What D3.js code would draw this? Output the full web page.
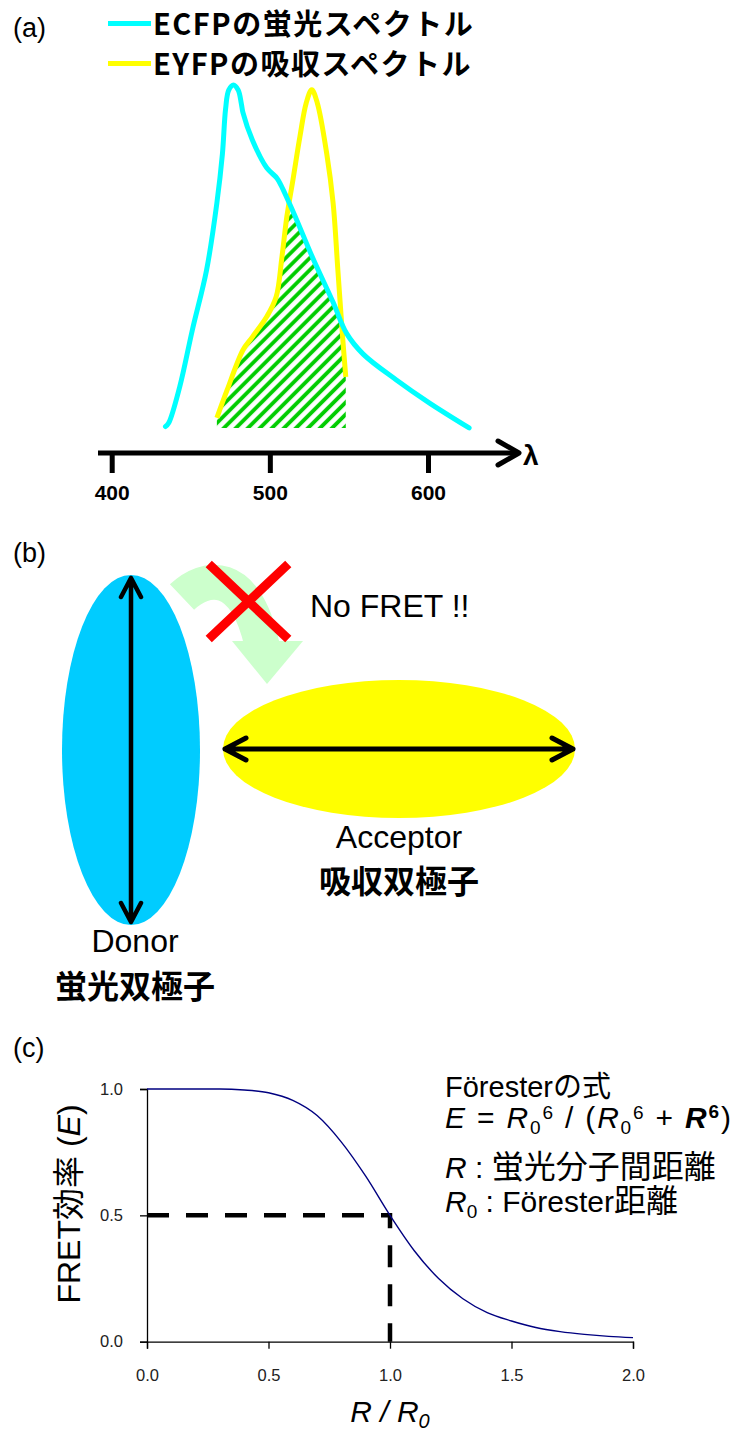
<!DOCTYPE html>
<html>
<head>
<meta charset="utf-8">
<script src="https://cdn.jsdelivr.net/npm/d3@7"></script>
<style>
    body { margin: 0; background: #ffffff; }
    #chart { width: 738px; height: 1437px; }
</style>
</head>
<body>
<div id="chart"></div>
<script>

// DATA

// (a) spectra: wavelength (nm) and relative intensity
const ecfpWavelength = [434, 436, 443, 451, 460, 466.5, 470, 472, 474, 477, 480, 482, 483, 489, 498, 504.5, 507, 515, 527, 540, 548.5, 559, 580, 601, 626];
const ecfpIntensity  = [0.01, 0.02, 0.125, 0.29, 0.464, 0.658, 0.80, 0.93, 0.985, 1.0, 0.985, 0.945, 0.92, 0.84, 0.76, 0.73, 0.71, 0.63, 0.50, 0.37, 0.28, 0.22, 0.145, 0.078, 0.006];

const eyfpWavelength = [466.5, 473, 483, 489, 498, 504, 507.6, 510.7, 514.6, 519, 523, 526.5, 530, 536, 540, 543, 546, 548];
const eyfpIntensity  = [0.035, 0.116, 0.232, 0.27, 0.328, 0.386, 0.50, 0.617, 0.725, 0.85, 0.948, 0.986, 0.948, 0.80, 0.658, 0.464, 0.27, 0.154];

const wavelengthTicks = [400, 500, 600];
const legendLabels = ["ECFPの蛍光スペクトル", "EYFPの吸収スペクトル"];
const legendColors = ["#00ffff", "#ffff00"];

// (c) FRET efficiency vs R / R0
const distanceRatio = [0, 0.1, 0.2, 0.3, 0.4, 0.5, 0.6, 0.7, 0.8, 0.9, 1.0, 1.1, 1.2, 1.3, 1.4, 1.5, 1.6, 1.7, 1.8, 1.9, 2.0];
const efficiency    = [1.0, 1.0, 1.0, 1.0, 0.996, 0.985, 0.955, 0.895, 0.79, 0.655, 0.5, 0.36, 0.25, 0.17, 0.115, 0.082, 0.056, 0.04, 0.029, 0.021, 0.016];
const ratioTicks = [0, 0.5, 1.0, 1.5, 2.0];
const efficiencyTicks = [0, 0.5, 1.0];
const halfPoint = [1.0, 0.5];

const fontLatin = "'Liberation Sans', Arial, 'Noto Sans CJK JP', sans-serif";
const fontJP = "'Noto Sans CJK JP', 'Liberation Sans', sans-serif";

// SVG CANVAS

const width = 738;
const height = 1437;

const svg = d3.select("#chart")
    .append("svg")
    .attr("width", width)
    .attr("height", height)
    .style("font-family", fontLatin);

const defs = svg.append("defs");

// PANEL LABELS

svg.selectAll(".panelLabel")
    .data([["(a)", 37], ["(b)", 562], ["(c)", 1057]])
    .enter()
    .append("text")
    .attr("class", "panelLabel")
    .attr("x", 13)
    .attr("y", function(d) { return d[1]; })
    .attr("font-size", 27)
    .text(function(d) { return d[0]; });

// ===================== (a) SPECTRA =====================

const xA = d3.scaleLinear()
    .domain([400, 600])
    .range([111.7, 428]);

const yA = d3.scaleLinear()
    .domain([0, 1])
    .range([430, 85]);

const ecfp = ecfpWavelength.map(function(w, i) { return {w: w, v: ecfpIntensity[i]}; });
const eyfp = eyfpWavelength.map(function(w, i) { return {w: w, v: eyfpIntensity[i]}; });

const specLine = d3.line()
    .x(function(d) { return xA(d.w); })
    .y(function(d) { return yA(d.v); })
    .curve(d3.curveCatmullRom);

const specArea = d3.area()
    .x(function(d) { return xA(d.w); })
    .y0(428)
    .y1(function(d) { return yA(d.v); })
    .curve(d3.curveCatmullRom);

// hatch pattern + clip to the area under the ECFP curve

const hatch = defs.append("pattern")
    .attr("id", "hatch")
    .attr("patternUnits", "userSpaceOnUse")
    .attr("width", 8.5)
    .attr("height", 8.5)
    .attr("patternTransform", "rotate(45)");

hatch.append("line")
    .attr("x1", 2).attr("y1", 0)
    .attr("x2", 2).attr("y2", 8.5)
    .attr("stroke", "#00cc00")
    .attr("stroke-width", 3.8);

defs.append("clipPath")
    .attr("id", "underCyan")
    .append("path")
    .attr("d", specArea(ecfp));

svg.append("path")
    .attr("d", specArea(eyfp))
    .attr("fill", "url(#hatch)")
    .attr("clip-path", "url(#underCyan)");

svg.append("path")
    .attr("d", specLine(eyfp))
    .attr("fill", "none")
    .attr("stroke", legendColors[1])
    .attr("stroke-width", 5)
    .attr("stroke-linejoin", "round");

svg.append("path")
    .attr("d", specLine(ecfp))
    .attr("fill", "none")
    .attr("stroke", legendColors[0])
    .attr("stroke-width", 5)
    .attr("stroke-linejoin", "round")
    .attr("stroke-linecap", "round");

// wavelength axis

const xAxisA = svg.append("g")
    .attr("transform", "translate(0,453)")
    .call(d3.axisBottom(xA).tickValues(wavelengthTicks).tickSize(20).tickPadding(12));

xAxisA.select(".domain").remove();
xAxisA.selectAll(".tick line").attr("stroke", "#000").attr("stroke-width", 5);
xAxisA.selectAll(".tick text")
    .attr("font-family", fontLatin)
    .attr("font-size", 21)
    .attr("font-weight", "bold")
    .attr("fill", "#000");

svg.append("line")
    .attr("x1", 98).attr("y1", 453)
    .attr("x2", 518).attr("y2", 453)
    .attr("stroke", "#000")
    .attr("stroke-width", 5);

svg.append("path")
    .attr("d", "M498,441 L519,453 L498,465")
    .attr("fill", "none")
    .attr("stroke", "#000")
    .attr("stroke-width", 5)
    .attr("stroke-linecap", "round")
    .attr("stroke-linejoin", "round");

svg.append("text")
    .attr("x", 523)
    .attr("y", 465)
    .attr("font-size", 28)
    .attr("font-weight", "bold")
    .text("λ");

// legend

const legend = svg.selectAll(".legend")
    .data(legendLabels)
    .enter()
    .append("g")
    .attr("class", "legend")
    .attr("transform", function(d, i) { return `translate(0,${i * 40})`; });

legend.append("line")
    .attr("x1", 108).attr("x2", 151)
    .attr("y1", 23.5).attr("y2", 23.5)
    .attr("stroke", function(d, i) { return legendColors[i]; })
    .attr("stroke-width", 5);

legend.append("text")
    .attr("x", 153)
    .attr("y", 35)
    .attr("font-family", fontJP)
    .attr("font-size", 29)
    .attr("font-weight", "bold")
    .attr("letter-spacing", 1.5)
    .text(function(d) { return d; });

// ===================== (b) DIPOLES =====================

const arrowColor = "#000";

// donor ellipse
svg.append("ellipse")
    .attr("cx", 131).attr("cy", 750)
    .attr("rx", 69).attr("ry", 175)
    .attr("fill", "#00ccff");

// acceptor ellipse
svg.append("ellipse")
    .attr("cx", 399).attr("cy", 749)
    .attr("rx", 176).attr("ry", 69)
    .attr("fill", "#ffff00");

// light green curved arrow
svg.append("path")
    .attr("d", "M182,597 C205,575 245,568 262,645")
    .attr("fill", "none")
    .attr("stroke", "#ccffcc")
    .attr("stroke-width", 35);

svg.append("path")
    .attr("d", "M232,641 L303,641 L267,684 Z")
    .attr("fill", "#ccffcc");

// red cross
svg.append("path")
    .attr("d", "M212,567 L285,636 M285,567 L212,636")
    .attr("stroke", "#ff0000")
    .attr("stroke-width", 9)
    .attr("stroke-linecap", "square");

// dipole arrows
svg.append("path")
    .attr("d", "M131,578 L131,922 M121,597 L131,578 L141,597 M121,903 L131,922 L141,903")
    .attr("fill", "none")
    .attr("stroke", arrowColor)
    .attr("stroke-width", 4.5)
    .attr("stroke-linecap", "round")
    .attr("stroke-linejoin", "round");

svg.append("path")
    .attr("d", "M225,749 L573,749 M246,738 L225,749 L246,760 M552,738 L573,749 L552,760")
    .attr("fill", "none")
    .attr("stroke", arrowColor)
    .attr("stroke-width", 5)
    .attr("stroke-linecap", "round")
    .attr("stroke-linejoin", "round");

svg.append("text")
    .attr("x", 310).attr("y", 617)
    .attr("font-size", 32)
    .text("No FRET !!");

const dipoleLabels = [
    {x: 399, y: 848, t: "Acceptor", jp: false},
    {x: 399, y: 893, t: "吸収双極子", jp: true},
    {x: 135, y: 952, t: "Donor", jp: false},
    {x: 135, y: 998, t: "蛍光双極子", jp: true}
];

svg.selectAll(".dipoleLabel")
    .data(dipoleLabels)
    .enter()
    .append("text")
    .attr("class", "dipoleLabel")
    .attr("x", function(d) { return d.x; })
    .attr("y", function(d) { return d.y; })
    .attr("text-anchor", "middle")
    .attr("font-family", function(d) { return d.jp ? fontJP : fontLatin; })
    .attr("font-weight", function(d) { return d.jp ? "bold" : "normal"; })
    .attr("font-size", 32)
    .text(function(d) { return d.t; });

// ===================== (c) FORSTER CURVE =====================

const xC = d3.scaleLinear()
    .domain([0, 2])
    .range([147, 633]);

const yC = d3.scaleLinear()
    .domain([0, 1])
    .range([1341.7, 1089]);

const xAxisC = svg.append("g")
    .attr("transform", "translate(0,1341.7)")
    .call(d3.axisBottom(xC).tickValues(ratioTicks).tickSize(7).tickPadding(21).tickFormat(d3.format(".1f")));

const yAxisC = svg.append("g")
    .attr("transform", "translate(147,0)")
    .call(d3.axisLeft(yC).tickValues(efficiencyTicks).tickSize(7).tickPadding(17).tickFormat(d3.format(".1f")));

[xAxisC, yAxisC].forEach(function(ax) {
    ax.select(".domain").attr("stroke", "#000").attr("stroke-width", 1.3);
    ax.selectAll(".tick line").attr("stroke", "#000").attr("stroke-width", 1.3);
    ax.selectAll(".tick text")
        .attr("font-family", fontLatin)
        .attr("font-size", 16.5)
        .attr("fill", "#222");
});

// dashed guide to the half point
svg.append("path")
    .attr("d", `M${xC(0)},${yC(halfPoint[1])} L${xC(halfPoint[0])},${yC(halfPoint[1])} L${xC(halfPoint[0])},${yC(0)}`)
    .attr("fill", "none")
    .attr("stroke", "#000")
    .attr("stroke-width", 4.5)
    .attr("stroke-dasharray", "22,17");

const curveData = distanceRatio.map(function(r, i) { return {r: r, e: efficiency[i]}; });

svg.append("path")
    .attr("d", d3.line()
        .x(function(d) { return xC(d.r); })
        .y(function(d) { return yC(d.e); })
        .curve(d3.curveMonotoneX)(curveData))
    .attr("fill", "none")
    .attr("stroke", "#000080")
    .attr("stroke-width", 1.4);

// axis titles

const yTitle = svg.append("text")
    .attr("transform", "translate(80,1204) rotate(-90)")
    .attr("text-anchor", "middle")
    .attr("font-size", 32);
yTitle.append("tspan").text("FRET効率 (");
yTitle.append("tspan").attr("font-style", "italic").text("E");
yTitle.append("tspan").text(")");

const xTitle = svg.append("text")
    .attr("x", 390)
    .attr("y", 1422)
    .attr("text-anchor", "middle")
    .attr("font-size", 30)
    .attr("font-style", "italic");
xTitle.append("tspan").text("R / R");
xTitle.append("tspan").attr("font-size", 20).attr("dy", 6).text("0");

// formula block

function richText(x, y, size, len, parts) {
    const t = svg.append("text")
        .attr("x", x)
        .attr("y", y)
        .attr("font-size", size);
    if (len) t.attr("textLength", len).attr("lengthAdjust", "spacing");
    parts.forEach(function(p) {
        const s = t.append("tspan").text(p.t);
        if (p.i) s.attr("font-style", "italic");
        if (p.b) s.attr("font-weight", "bold");
        if (p.fs) s.attr("font-size", p.fs);
        if (p.dy) s.attr("dy", p.dy);
    });
    return t;
}

richText(445, 1097, 29, null, [{t: "Föresterの式"}]);

richText(445, 1128, 30, 286, [
    {t: "E", i: true}, {t: " = "}, {t: "R", i: true},
    {t: "0", fs: 19, dy: 6}, {t: "6", fs: 19, dy: -15},
    {t: " / (", dy: 9}, {t: "R", i: true},
    {t: "0", fs: 19, dy: 6}, {t: "6", fs: 19, dy: -15},
    {t: " + ", dy: 9}, {t: "R", i: true, b: true},
    {t: "6", fs: 19, b: true, dy: -10}, {t: ")", dy: 10}
]);

richText(445, 1178, 30, null, [{t: "R", i: true}, {t: " : "}, {t: "蛍光分子間距離", fs: 32}]);

richText(445, 1212, 30, null, [
    {t: "R", i: true}, {t: "0", fs: 19, dy: 6}, {t: " : Förester", dy: -6}, {t: "距離", fs: 32}
]);

</script>
</body>
</html>
